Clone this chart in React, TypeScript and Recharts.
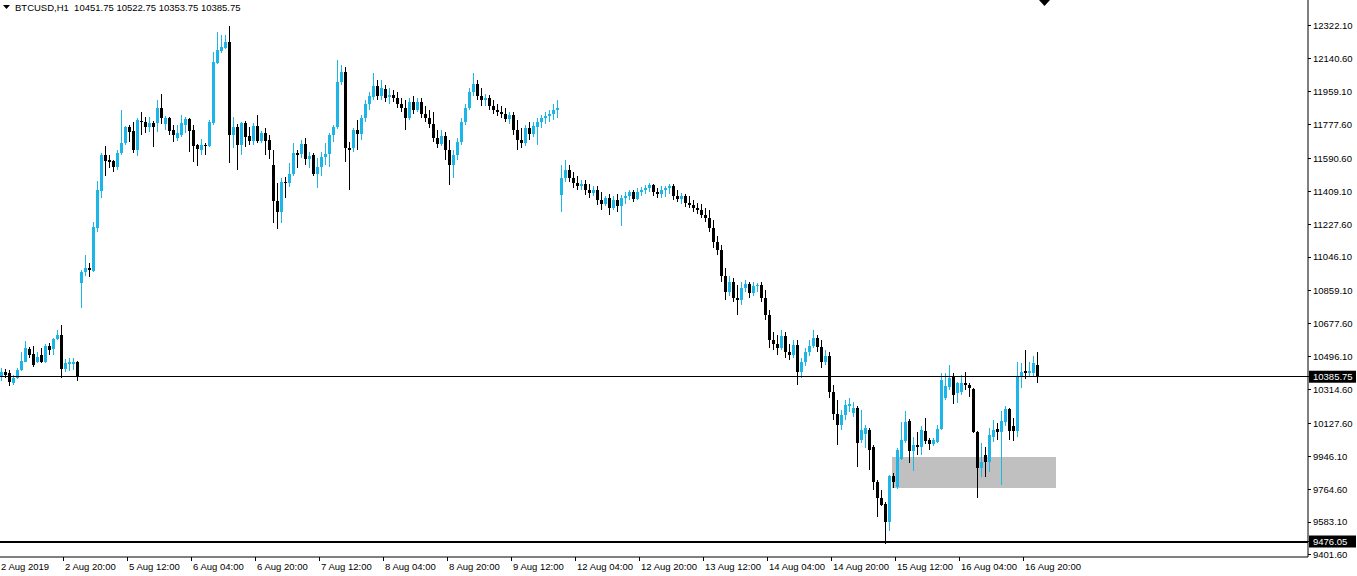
import React from "react";
import {
  ComposedChart,
  Bar,
  XAxis,
  YAxis,
  ReferenceLine,
  ReferenceArea,
} from "recharts";

const symbol = "BTCUSD,H1";

// hourly candles, 2 Aug 04:00 .. 16 Aug 23:00 (weekends skipped)
const opens = [
  10384, 10412, 10406, 10351, 10379, 10423, 10467, 10539, 10511, 10467, 10506, 10467, 10555, 10539, 10594, 10616, 10428, 10456, 10456, 10467,
  10903, 10964, 10986, 10969, 11207, 11411, 11610, 11582, 11577, 11544, 11621, 11676, 11764, 11742, 11637, 11798, 11792, 11764, 11787, 11787,
  11869, 11781, 11814, 11748, 11704, 11720, 11776, 11809, 11748, 11665, 11637, 11665, 11660, 11787, 12118, 12184, 12201, 12234, 11720, 11764,
  11665, 11787, 11715, 11687, 11770, 11687, 11731, 11693, 11555, 11356, 11295, 11461, 11455, 11505, 11621, 11615, 11671, 11588, 11610, 11505,
  11544, 11599, 11615, 11720, 11764, 12013, 12068, 11649, 11649, 11748, 11726, 11814, 11891, 11930, 11991, 11936, 11974, 11930, 11941, 11925,
  11891, 11869, 11814, 11902, 11858, 11902, 11836, 11814, 11781, 11704, 11671, 11715, 11637, 11555, 11610, 11682, 11792, 11869, 11958, 12002,
  11936, 11913, 11925, 11880, 11858, 11847, 11836, 11809, 11831, 11748, 11693, 11676, 11759, 11726, 11764, 11792, 11814, 11825, 11836, 11858,
  11389, 11483, 11527, 11483, 11455, 11439, 11450, 11417, 11400, 11417, 11361, 11339, 11372, 11317, 11361, 11328, 11372, 11383, 11406, 11367,
  11406, 11417, 11428, 11444, 11406, 11394, 11417, 11428, 11439, 11383, 11367, 11383, 11345, 11334, 11317, 11306, 11279, 11262, 11207, 11129,
  11085, 10942, 10854, 10909, 10820, 10809, 10876, 10898, 10848, 10887, 10892, 10820, 10727, 10589, 10566, 10544, 10611, 10522, 10506, 10561,
  10412, 10467, 10522, 10555, 10599, 10550, 10467, 10500, 10301, 10180, 10119, 10174, 10224, 10185, 10213, 10036, 10069, 10092, 9998, 9804,
  9716, 9683, 9584, 9838, 9777, 9931, 10031, 10141, 9976, 10009, 9998, 10086, 10036, 10014, 10025, 10097, 10268, 10329, 10384, 10296,
  10301, 10351, 10340, 10318, 10081, 9882, 9954, 9915, 10053, 10097, 10081, 10136, 10207, 10114, 10086, 10384, 10417, 10406, 10406, 10451.75,
];

const highs = [
  10434, 10428, 10423, 10395, 10434, 10522, 10583, 10550, 10555, 10522, 10544, 10566, 10572, 10599, 10644, 10671, 10484, 10489, 10489, 10473,
  10975, 11058, 11014, 11240, 11466, 11621, 11660, 11610, 11582, 11637, 11858, 11770, 11776, 11792, 11814, 11847, 11820, 11820, 11798, 11913,
  11947, 11825, 11820, 11776, 11776, 11831, 11820, 11814, 11776, 11671, 11698, 11676, 11803, 12179, 12289, 12272, 12272, 12322, 11820, 11781,
  11792, 11798, 11764, 11787, 11831, 11742, 11759, 11720, 11637, 11455, 11483, 11488, 11566, 11676, 11637, 11693, 11704, 11626, 11621, 11593,
  11626, 11676, 11731, 11776, 12134, 12107, 12096, 11682, 11759, 11803, 11831, 11913, 11958, 12063, 12024, 12024, 11996, 11980, 11969, 11958,
  11925, 11913, 11925, 11936, 11925, 11925, 11880, 11858, 11847, 11748, 11748, 11737, 11693, 11637, 11704, 11814, 11891, 11980, 12063, 12024,
  11980, 11947, 11941, 11913, 11891, 11880, 11869, 11847, 11847, 11803, 11759, 11776, 11792, 11792, 11814, 11831, 11847, 11858, 11891, 11913,
  11555, 11582, 11555, 11516, 11494, 11472, 11472, 11450, 11439, 11439, 11406, 11383, 11394, 11383, 11394, 11389, 11406, 11417, 11417, 11428,
  11433, 11444, 11455, 11450, 11428, 11439, 11439, 11450, 11450, 11417, 11400, 11394, 11383, 11361, 11345, 11339, 11317, 11306, 11251, 11163,
  11113, 10986, 10942, 10931, 10892, 10909, 10920, 10909, 10909, 10903, 10909, 10865, 10754, 10633, 10616, 10644, 10633, 10566, 10589, 10589,
  10489, 10544, 10589, 10644, 10616, 10589, 10533, 10522, 10340, 10257, 10202, 10257, 10268, 10246, 10224, 10202, 10119, 10103, 10009, 9816,
  9760, 9694, 9843, 9854, 9992, 10136, 10196, 10152, 10053, 10081, 10114, 10158, 10047, 10047, 10119, 10406, 10406, 10450, 10406, 10357,
  10395, 10412, 10351, 10323, 10086, 10020, 9998, 10102, 10147, 10130, 10196, 10224, 10213, 10158, 10467, 10461, 10533, 10467, 10500, 10522.75,
];

const lows = [
  10362, 10379, 10334, 10340, 10373, 10417, 10467, 10489, 10439, 10461, 10461, 10461, 10506, 10506, 10588, 10379, 10412, 10417, 10423, 10362,
  10765, 10942, 10936, 10964, 11185, 11372, 11494, 11538, 11516, 11527, 11610, 11665, 11682, 11621, 11604, 11720, 11731, 11737, 11654, 11737,
  11781, 11748, 11720, 11682, 11687, 11709, 11731, 11626, 11571, 11549, 11610, 11610, 11654, 11776, 12112, 12173, 12195, 11566, 11649, 11527,
  11610, 11654, 11665, 11665, 11676, 11676, 11610, 11588, 11234, 11201, 11234, 11372, 11433, 11494, 11538, 11593, 11555, 11538, 11494, 11428,
  11494, 11555, 11544, 11682, 11753, 11996, 11571, 11417, 11626, 11637, 11693, 11792, 11858, 11913, 11913, 11913, 11902, 11891, 11902, 11869,
  11847, 11748, 11803, 11836, 11847, 11814, 11792, 11759, 11682, 11649, 11660, 11582, 11444, 11483, 11582, 11665, 11776, 11858, 11936, 11913,
  11880, 11880, 11858, 11836, 11825, 11814, 11792, 11781, 11720, 11637, 11649, 11660, 11693, 11709, 11665, 11759, 11781, 11792, 11803, 11814,
  11295, 11461, 11461, 11428, 11417, 11417, 11389, 11372, 11383, 11334, 11306, 11328, 11279, 11306, 11295, 11218, 11339, 11361, 11350, 11361,
  11383, 11394, 11406, 11383, 11372, 11372, 11378, 11394, 11361, 11350, 11339, 11323, 11317, 11295, 11284, 11262, 11240, 11185, 11096, 11058,
  10909, 10809, 10831, 10798, 10727, 10782, 10854, 10820, 10831, 10854, 10798, 10699, 10544, 10533, 10506, 10533, 10489, 10478, 10489, 10340,
  10379, 10445, 10500, 10544, 10522, 10434, 10450, 10268, 10147, 10009, 10092, 10147, 10191, 10163, 9887, 10020, 9992, 9871, 9760, 9611,
  9672, 9462, 9534, 9771, 9766, 9926, 10020, 9909, 9865, 9954, 9954, 10014, 9981, 10003, 10020, 10092, 10257, 10312, 10235, 10241,
  10285, 10312, 10274, 10075, 9716, 9832, 9832, 9860, 10025, 10036, 9788, 10114, 10036, 10031, 10053, 10323, 10373, 10390, 10390, 10353.75,
];

const closes = [
  10412, 10395, 10357, 10379, 10423, 10473, 10544, 10506, 10450, 10495, 10467, 10555, 10533, 10594, 10616, 10428, 10461, 10467, 10467, 10384,
  10964, 10986, 10975, 11212, 11417, 11610, 11577, 11571, 11544, 11621, 11676, 11764, 11737, 11637, 11803, 11792, 11764, 11787, 11764, 11869,
  11814, 11814, 11742, 11720, 11731, 11787, 11809, 11742, 11660, 11643, 11665, 11660, 11792, 12123, 12190, 12206, 12234, 11720, 11764, 11665,
  11787, 11709, 11687, 11770, 11687, 11731, 11687, 11637, 11356, 11295, 11461, 11455, 11505, 11621, 11610, 11671, 11588, 11604, 11505, 11544,
  11599, 11615, 11720, 11764, 12013, 12068, 11649, 11637, 11748, 11726, 11814, 11891, 11936, 11991, 11936, 11980, 11925, 11941, 11925, 11891,
  11869, 11814, 11902, 11858, 11902, 11836, 11814, 11781, 11704, 11671, 11715, 11637, 11555, 11610, 11682, 11792, 11869, 11958, 12002, 11936,
  11913, 11925, 11880, 11858, 11847, 11836, 11809, 11831, 11748, 11693, 11676, 11759, 11726, 11770, 11792, 11814, 11825, 11836, 11858, 11869,
  11483, 11527, 11483, 11455, 11439, 11450, 11417, 11400, 11417, 11361, 11339, 11372, 11317, 11361, 11328, 11372, 11383, 11406, 11367, 11406,
  11417, 11428, 11444, 11406, 11394, 11417, 11428, 11439, 11383, 11367, 11383, 11345, 11334, 11317, 11306, 11279, 11262, 11207, 11129, 11085,
  10942, 10854, 10909, 10820, 10809, 10876, 10898, 10848, 10887, 10892, 10820, 10727, 10589, 10566, 10544, 10611, 10522, 10506, 10561, 10412,
  10467, 10522, 10555, 10599, 10550, 10467, 10500, 10301, 10180, 10119, 10174, 10230, 10235, 10213, 10020, 10092, 10103, 9981, 9804, 9716,
  9677, 9584, 9838, 9804, 9981, 10036, 10136, 9976, 10009, 9998, 10092, 10031, 10014, 10036, 10097, 10368, 10334, 10379, 10285, 10351,
  10351, 10340, 10323, 10081, 9882, 9915, 9915, 10064, 10092, 10081, 10141, 10207, 10086, 10086, 10390, 10412, 10406, 10417, 10461, 10385.75,
];

// one label every 16 bars
const timeLabels = [
  "2 Aug 2019", "2 Aug 20:00", "5 Aug 12:00", "6 Aug 04:00", "6 Aug 20:00", "7 Aug 12:00",
  "8 Aug 04:00", "8 Aug 20:00", "9 Aug 12:00", "12 Aug 04:00", "12 Aug 20:00", "13 Aug 12:00",
  "14 Aug 04:00", "14 Aug 20:00", "15 Aug 12:00", "16 Aug 04:00", "16 Aug 20:00",
];
const barsPerLabel = 16;

const priceTicks = [
  12322.1, 12140.6, 11959.1, 11777.6, 11590.6, 11409.1, 11227.6, 11046.1, 10859.1,
  10677.6, 10496.1, 10314.6, 10127.6, 9946.1, 9764.6, 9583.1, 9401.6,
];
const priceMin = 9390.5;
const priceMax = 12465.6;

const lastPrice = 10385.75;
const supportPrice = 9476.05;

// grey demand zone
const zoneFrom = 223;
const zoneTo = 263;
const zoneTop = 9942.5;
const zoneBottom = 9771.4;

const shiftBars = 67; // empty space right of the last candle

const UP = "#1cb5e8";
const DOWN = "#000000";
const FONT = "Tahoma, 'Liberation Sans', Arial, sans-serif";

const rows = [
  ...opens.map((o, i) => ({ i, open: o, high: highs[i], low: lows[i], close: closes[i] })),
  ...Array.from({ length: shiftBars }, (_, k) => ({ i: opens.length + k })),
];

const labelTicks = timeLabels.map((_, k) => k * barsPerLabel);

function Candle(props: any) {
  const { x, y, height, payload } = props;
  if (!payload || payload.open == null || !isFinite(y) || !isFinite(height)) return null;
  const { open, high, low, close } = payload;
  const top = Math.min(y, y + height);
  const h = Math.abs(height);
  const span = high - low || 1;
  const at = (v: number) => top + ((high - v) / span) * h;
  const color = close >= open ? UP : DOWN;
  const left = Math.round(x);
  const bodyTop = Math.round(at(Math.max(open, close)));
  const bodyBottom = Math.round(at(Math.min(open, close)));
  return (
    <g shapeRendering="crispEdges">
      <rect x={left + 1} y={Math.round(top)} width={1} height={Math.max(1, Math.round(h))} fill={color} />
      <rect x={left} y={bodyTop} width={3} height={Math.max(1, bodyBottom - bodyTop)} fill={color} />
    </g>
  );
}

function TimeTick({ x, y, payload }: any) {
  const label = timeLabels[payload.value / barsPerLabel];
  return (
    <g>
      <line x1={x - 3} x2={x - 3} y1={y} y2={y + 4} stroke="#000" shapeRendering="crispEdges" />
      <text x={x - 1} y={y + 13} fontSize={9.5} fontFamily={FONT} fill="#000">
        {label}
      </text>
    </g>
  );
}

function PriceTick({ x, y, payload }: any) {
  const v = payload.value;
  const tagged = v === lastPrice || v === supportPrice;
  return (
    <g>
      <line x1={x} x2={x + 3} y1={y} y2={y} stroke="#000" shapeRendering="crispEdges" />
      {tagged && <rect x={x + 1} y={y - 6} width={47} height={12} fill="#000" />}
      <text x={x + 5} y={y} dy="0.35em" fontSize={9.5} fontFamily={FONT} fill={tagged ? "#fff" : "#000"}>
        {v.toFixed(2)}
      </text>
    </g>
  );
}

export default function App() {
  const last = opens.length - 1;
  const header = `${symbol}  ${opens[last].toFixed(2)} ${highs[last].toFixed(2)} ${lows[last].toFixed(2)} ${closes[last].toFixed(2)}`;
  return (
    <div style={{ position: "relative", width: 1357, height: 576, background: "#fff" }}>
      <style>{"body{margin:0}"}</style>
      <ComposedChart
        width={1357}
        height={576}
        data={rows}
        margin={{ top: 0, right: 0, bottom: 0, left: 0 }}
        barCategoryGap={0}
        barGap={0}
      >
        <XAxis
          dataKey="i"
          type="category"
          height={19}
          ticks={labelTicks}
          interval={0}
          tickSize={0}
          tickMargin={0}
          tickLine={false}
          axisLine={{ stroke: "#000" }}
          tick={<TimeTick />}
        />
        <YAxis
          orientation="right"
          type="number"
          width={49}
          domain={[priceMin, priceMax]}
          allowDataOverflow
          ticks={[...priceTicks, lastPrice, supportPrice]}
          interval={0}
          tickSize={0}
          tickMargin={0}
          tickLine={false}
          axisLine={{ stroke: "#000" }}
          tick={<PriceTick />}
        />
        <ReferenceArea
          x1={zoneFrom}
          x2={zoneTo}
          y1={zoneBottom}
          y2={zoneTop}
          fill="#c0c0c0"
          fillOpacity={1}
          stroke="none"
        />
        <ReferenceLine y={lastPrice} stroke="#000" strokeWidth={1} shapeRendering="crispEdges" />
        <ReferenceLine y={supportPrice} stroke="#000" strokeWidth={2} shapeRendering="crispEdges" />
        <Bar
          dataKey={(d: any) => (d.open == null ? null : [d.low, d.high])}
          shape={<Candle />}
          isAnimationActive={false}
        />
      </ComposedChart>
      <div
        style={{
          position: "absolute",
          left: 3,
          top: 1,
          font: `9.5px ${FONT}`,
          color: "#000",
          whiteSpace: "pre",
          display: "flex",
          alignItems: "center",
          gap: 5,
        }}
      >
        <svg width={7} height={12}>
          <polygon points="0,4 7,4 3.5,8" fill="#000" />
        </svg>
        <span>{header}</span>
      </div>
      <svg style={{ position: "absolute", left: 1039, top: 0 }} width={12} height={8}>
        <polygon points="0,0 11,0 5.5,6" fill="#000" />
      </svg>
    </div>
  );
}
